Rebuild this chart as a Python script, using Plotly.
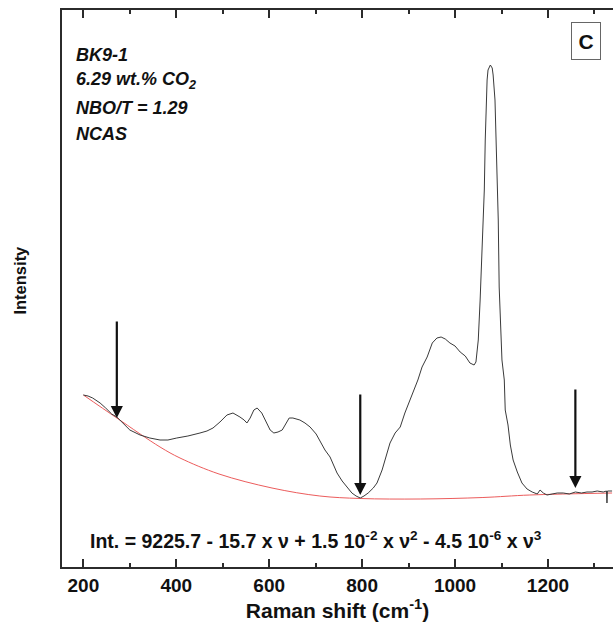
import plotly.graph_objects as go

# Raman spectrum (arbitrary intensity units)
shift = [200, 210, 220, 236, 248, 261, 272, 285, 300, 322, 343, 365, 382, 401, 425, 451,
         466, 479, 494, 509, 522, 537, 546, 552, 559, 567, 574, 584, 593, 602, 610, 619,
         628, 636, 643, 651, 666, 677, 688, 701, 709, 720, 731, 740, 746, 757, 768, 778,
         787, 796, 804, 813, 824, 832, 843, 854, 860, 871, 882, 892, 903, 910, 920, 929,
         940, 951, 961, 970, 979, 989, 1000, 1011, 1022, 1032, 1041, 1045, 1050, 1054,
         1058, 1060, 1063, 1065, 1067, 1069, 1071, 1076, 1080, 1082, 1086, 1088, 1091,
         1093, 1095, 1099, 1101, 1106, 1108, 1114, 1119, 1125, 1134, 1144, 1155, 1166,
         1177, 1183, 1190, 1198, 1209, 1220, 1233, 1246, 1259, 1272, 1284, 1295, 1306,
         1319, 1326, 1327, 1328, 1338]
intensity = [172, 171, 169, 164, 159, 153, 150, 144, 137, 132, 129, 127, 127, 129, 131, 134,
             136, 139, 145, 152, 154, 150, 147, 144, 149, 157, 159, 154, 145, 137, 134, 135,
             137, 144, 149, 149, 147, 144, 140, 133, 126, 117, 110, 101, 94, 86, 80, 74,
             71, 69, 71, 74, 79, 84, 97, 114, 124, 134, 140, 154, 167, 174, 187, 200,
             210, 224, 229, 230, 228, 224, 221, 215, 211, 204, 202, 205, 227, 267,
             314, 340, 377, 427, 462, 487, 497, 502, 499, 492, 467, 437, 397,
             347, 280, 237, 207, 187, 157, 142, 122, 107, 95, 84, 78, 75,
             73, 77, 74, 72, 73, 74, 74, 73, 75, 74, 75, 75, 76,
             75, 76, 64, 76, 76]

# Cubic baseline
base_shift = [200, 272, 365, 408, 492, 606, 709, 796, 925, 1060, 1161, 1338]
base_int = [172, 149, 120, 109, 93, 79, 71, 68.5, 68, 69.5, 72, 74]

# Arrows marking the baseline anchor points
arrow_x = [272, 796, 1259]
arrow_tail = [247, 174, 179]
arrow_tip = [149, 72, 79]

info_lines = ["BK9-1", "6.29 wt.% CO<sub>2</sub>", "NBO/T = 1.29", "NCAS"]
equation = ("Int. = 9225.7 - 15.7 x \u03bd + 1.5 10<sup>-2</sup> x \u03bd<sup>2</sup>"
            " - 4.5 10<sup>-6</sup> x \u03bd<sup>3</sup>")

FONT = "Liberation Sans, Arial, sans-serif"
AX = "#2b2b2b"

fig = go.Figure()
fig.add_trace(go.Scatter(x=base_shift, y=base_int, mode="lines",
                         line=dict(color="#ec5c5c", width=1, shape="spline"),
                         hoverinfo="skip"))
fig.add_trace(go.Scatter(x=shift, y=intensity, mode="lines",
                         line=dict(color="#3a3a3a", width=1), hoverinfo="skip"))

annotations = []
for xa, yt, yp in zip(arrow_x, arrow_tail, arrow_tip):
    annotations.append(dict(x=xa, y=yp, ax=xa, ay=yt, xref="x", yref="y",
                            axref="x", ayref="y", text="", showarrow=True,
                            arrowhead=2, arrowsize=1.1, arrowwidth=2.2,
                            arrowcolor="#111111"))

line_y = [0.920, 0.873, 0.824, 0.777]
for txt, yy in zip(info_lines, line_y):
    annotations.append(dict(x=0.022, y=yy, xref="paper", yref="paper",
                            xanchor="left", yanchor="middle", showarrow=False,
                            text="<b><i>" + txt + "</i></b>",
                            font=dict(family=FONT, size=18, color="#111111")))

annotations.append(dict(x=0.461, y=0.048, xref="paper", yref="paper",
                        xanchor="center", yanchor="middle", showarrow=False,
                        text="<b>" + equation + "</b>",
                        font=dict(family=FONT, size=19.5, color="#111111")))

annotations.append(dict(x=0.9514, y=0.9446, xref="paper", yref="paper",
                        xanchor="center", yanchor="middle", showarrow=False,
                        text="<b>C</b>", width=26, height=34,
                        bordercolor="#666666", borderwidth=1, borderpad=1,
                        bgcolor="white",
                        font=dict(family=FONT, size=21, color="#111111")))

# y-axis title
annotations.append(dict(x=-0.0755, y=0.515, xref="paper", yref="paper",
                        xanchor="center", yanchor="middle", showarrow=False,
                        text="<b>Intensity</b>", textangle=-90,
                        font=dict(family=FONT, size=16.5, color="#111111")))

fig.update_layout(
    width=613, height=623,
    margin=dict(l=62, r=0, t=10, b=56),
    paper_bgcolor="white", plot_bgcolor="white",
    showlegend=False,
    annotations=annotations,
    font=dict(family=FONT, color="#111111"),
)
fig.update_xaxes(
    range=[154, 1340], showgrid=False, zeroline=False,
    showline=True, linecolor=AX, linewidth=2, mirror="allticks",
    ticks="inside", ticklen=8, tickwidth=1.5, tickcolor=AX,
    tickvals=[200, 400, 600, 800, 1000, 1200],
    tickfont=dict(family=FONT, size=19, weight="bold", color="#111111"),
    minor=dict(ticks="inside", ticklen=4, tickwidth=1.5, tickcolor=AX,
               tickvals=[300, 500, 700, 900, 1100, 1300]),
    title=dict(text="<b>Raman shift (cm<sup>-1</sup>)</b>", standoff=2,
               font=dict(family=FONT, size=21, color="#111111")),
)
fig.update_yaxes(
    range=[0, 557], showgrid=False, zeroline=False,
    showline=True, linecolor=AX, linewidth=2, mirror=False,
    ticks="", showticklabels=False,
)

fig.write_html("out.html")
